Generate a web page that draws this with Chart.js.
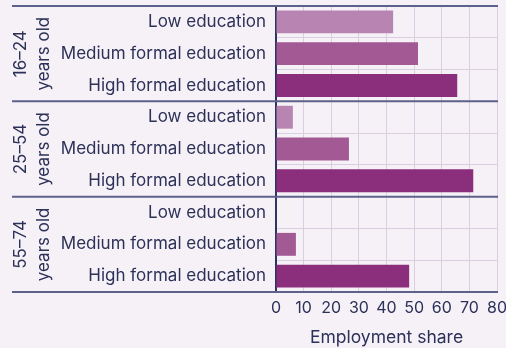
<!DOCTYPE html>
<html>
<head>
<meta charset="utf-8">
<script src="https://cdn.jsdelivr.net/npm/chart.js@4.4.1/dist/chart.umd.min.js"></script>
<style>
  html, body { margin: 0; padding: 0; background: #f6f0f7; }
  #wrap { width: 506px; height: 348px; }
</style>
</head>
<body>
<div id="wrap"><canvas id="chart"></canvas></div>
<script>
// age groups (outer rows) and education levels (inner rows)
const ageGroups = ['16–24', '25–54', '55–74'];
const ageSuffix = 'years old';
const educationLevels = ['Low education', 'Medium formal education', 'High formal education'];

// employment share per education level, one array per age group
const share16to24 = [42.4, 51.4, 65.6];
const share25to54 = [6.1, 26.4, 71.4];
const share55to74 = [0, 7.2, 48.2];

const xTicks = [0, 10, 20, 30, 40, 50, 60, 70, 80];
const xTitle = 'Employment share';

const levelColors = ['#b884b1', '#a25994', '#8b2f7c'];
const textColor = '#2c3158';
const ruleColor = '#5e6189';
const gridColor = '#dacfe0';
const FONT = 'Inter, "Noto Sans", sans-serif';

const labels = [];
const values = [];
const colors = [];
[share16to24, share25to54, share55to74].forEach(group => {
  group.forEach((v, i) => {
    labels.push(educationLevels[i]);
    values.push(v);
    colors.push(levelColors[i]);
  });
});

// group separators and rotated age labels on the left
const ageGroupPlugin = {
  id: 'ageGroups',
  afterDraw(chart) {
    const { ctx, chartArea, scales: { y } } = chart;
    const n = educationLevels.length;
    const half = (y.getPixelForValue(1) - y.getPixelForValue(0)) / 2;
    ctx.save();
    ctx.strokeStyle = ruleColor;
    ctx.lineWidth = 2;
    for (let g = 0; g <= ageGroups.length; g++) {
      const yy = y.getPixelForValue(g * n) - half;
      ctx.beginPath();
      ctx.moveTo(12, yy);
      ctx.lineTo(chartArea.right + 1, yy);
      ctx.stroke();
    }
    ctx.fillStyle = textColor;
    ctx.font = '17px ' + FONT;
    ctx.textAlign = 'center';
    ctx.textBaseline = 'alphabetic';
    ageGroups.forEach((name, g) => {
      const top = y.getPixelForValue(g * n) - half;
      const bottom = y.getPixelForValue(g * n + n - 1) + half;
      const cy = (top + bottom) / 2;
      [[name, 26], [ageSuffix, 49]].forEach(([txt, x]) => {
        ctx.save();
        ctx.translate(x, cy);
        ctx.rotate(-Math.PI / 2);
        ctx.fillText(txt, 0, 0);
        ctx.restore();
      });
    });
    ctx.restore();
  }
};

new Chart(document.getElementById('chart'), {
  type: 'bar',
  data: {
    labels,
    datasets: [{
      data: values,
      backgroundColor: colors,
      borderWidth: 0,
      categoryPercentage: 1,
      barPercentage: 0.72
    }]
  },
  options: {
    indexAxis: 'y',
    responsive: true,
    maintainAspectRatio: false,
    animation: false,
    events: [],
    layout: { padding: { top: 6, right: 9, left: 0, bottom: 0 } },
    plugins: { legend: { display: false }, tooltip: { enabled: false } },
    scales: {
      x: {
        min: 0,
        max: 80,
        afterBuildTicks(scale) { scale.ticks = xTicks.map(v => ({ value: v })); },
        afterFit(scale) {
          scale.height = 56;
          scale.paddingLeft = 0;
          scale.paddingRight = 0;
        },
        grid: { color: gridColor, lineWidth: 1, drawTicks: false },
        border: { display: false },
        ticks: { color: textColor, padding: 7, font: { size: 16, family: FONT } },
        title: {
          display: true,
          text: xTitle,
          color: textColor,
          font: { size: 17.5, family: FONT },
          padding: { top: 0, bottom: 0 }
        }
      },
      y: {
        afterFit(scale) {
          scale.width = 276;
          scale.paddingTop = 0;
          scale.paddingBottom = 0;
        },
        grid: { color: gridColor, lineWidth: 1, drawTicks: false, offset: true },
        border: { display: true, color: '#2f3460', width: 2 },
        ticks: { color: textColor, padding: 10, font: { size: 17, family: FONT } }
      }
    }
  },
  plugins: [ageGroupPlugin]
});
</script>
</body>
</html>
